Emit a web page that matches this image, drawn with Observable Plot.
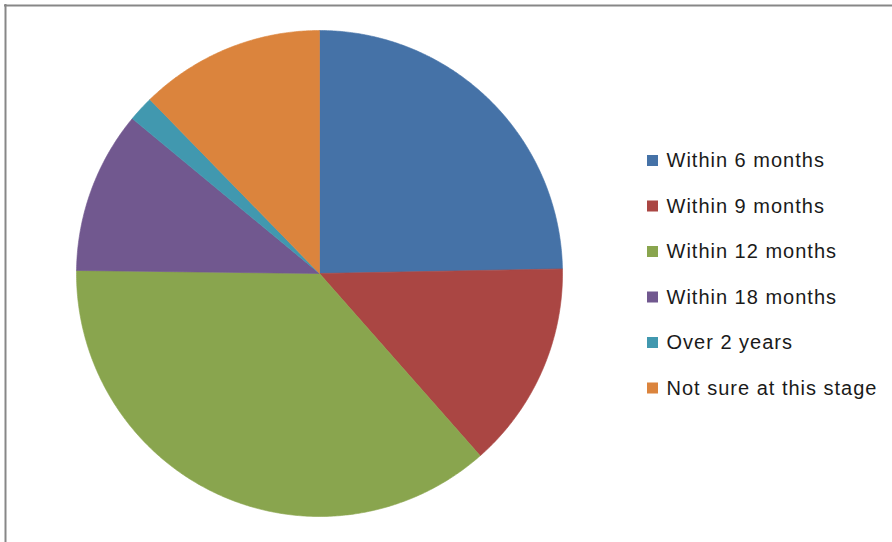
<!DOCTYPE html>
<html>
<head>
<meta charset="utf-8">
<script src="https://cdn.jsdelivr.net/npm/d3@7"></script>
<script src="https://cdn.jsdelivr.net/npm/@observablehq/plot@0.6"></script>
<style>
  html, body { margin: 0; padding: 0; background: #fff; }
  svg { display: block; }
</style>
</head>
<body>
<div id="chart"></div>
<script>
const categories = ["Within 6 months", "Within 9 months", "Within 12 months", "Within 18 months", "Over 2 years", "Not sure at this stage"];
const values = [24.7, 13.8, 36.7, 10.8, 1.7, 12.3];
const colors = ["#4572A7", "#AA4643", "#89A54E", "#71588F", "#4198AF", "#DB843D"];

const W = 892, H = 542;
const cx = 319, cy = 273, R = 243;

const arcs = d3.pie().sort(null).value(d => d)(values);
const pts = [];
arcs.forEach((a, i) => {
  const label = categories[i];
  pts.push({label, x: cx, y: cy});
  const n = Math.max(4, Math.ceil((a.endAngle - a.startAngle) * 120));
  for (let k = 0; k <= n; k++) {
    const t = a.startAngle + (a.endAngle - a.startAngle) * k / n;
    pts.push({label, x: cx + R * Math.sin(t), y: cy - R * Math.cos(t)});
  }
  pts.push({label, x: cx, y: cy});
});

const legend = categories.map((label, i) => ({label, cy: 160.5 + 45.5 * i}));

const chart = Plot.plot({
  width: W,
  height: H,
  margin: 0,
  x: {domain: [0, W], range: [0, W], axis: null},
  y: {domain: [0, H], range: [0, H], axis: null},
  color: {domain: categories, range: colors},
  style: {background: "#fff"},
  marks: [
    Plot.line(pts, {x: "x", y: "y", z: "label", fill: "label", stroke: "label", strokeWidth: 0.6, curve: "linear"}),
    Plot.ruleY([5], {x1: 4, x2: W, stroke: "#878787", strokeWidth: 2}),
    Plot.ruleX([5], {y1: 4, y2: H, stroke: "#878787", strokeWidth: 2}),
    Plot.rect(legend, {x1: 647, x2: 658, y1: d => d.cy - 5.5, y2: d => d.cy + 5.5, fill: "label"}),
    Plot.text(legend, {x: 666, y: "cy", text: "label", textAnchor: "start", fontSize: 20, fill: "#1a1a1a", fontFamily: "Liberation Sans, Arial, sans-serif", style: "letter-spacing:1px"})
  ]
});
document.getElementById("chart").appendChild(chart);
chart.querySelectorAll("text").forEach(t => t.setAttribute("letter-spacing", "1"));
</script>
</body>
</html>
